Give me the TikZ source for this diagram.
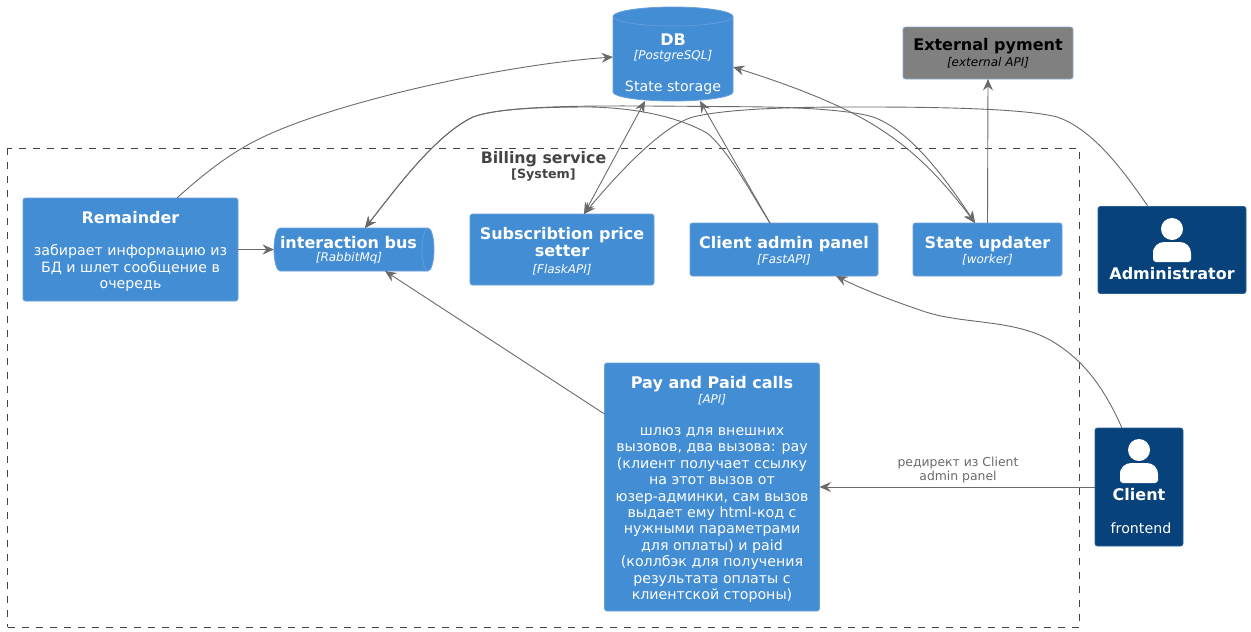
\documentclass[tikz,border=0pt]{standalone}
\usepackage{fontspec}
\setmainfont{DejaVu Sans}
\usetikzlibrary{arrows.meta,calc}
\definecolor{cont}{HTML}{438DD5}
\definecolor{contb}{HTML}{6A9FDC}
\definecolor{pers}{HTML}{08427B}
\definecolor{persb}{HTML}{2A5F96}
\definecolor{extb}{HTML}{8AA8C8}
\definecolor{edgec}{HTML}{6A6A6A}
\definecolor{sysc}{HTML}{444444}
\newcommand\ttl[1]{{\fontsize{16}{18}\selectfont\bfseries #1}}
\newcommand\tch[1]{{\fontsize{12}{14}\selectfont\itshape #1}}
\tikzset{
  base/.style={inner sep=0pt,outer sep=0pt,align=center,text=white,font=\fontsize{14.2}{16.4}\selectfont},
  box/.style={base,draw=contb,fill=cont,line width=0.8pt,rounded corners=2.5pt},
  extbox/.style={box,draw=extb,fill=gray!100!white,text=black},
  persbox/.style={box,draw=persb,fill=pers},
  plain/.style={base},
  edge/.style={draw=edgec,line width=0.9pt,-{Stealth[length=11.5pt,width=10pt,inset=4pt]}},
  bothedge/.style={draw=edgec,line width=0.9pt,{Stealth[length=11.5pt,width=10pt,inset=4pt]}-{Stealth[length=11.5pt,width=10pt,inset=4pt]}},
  sysline/.style={draw=sysc,line width=0.9pt,dash pattern=on 7pt off 7pt},
}
\begin{document}
\begin{tikzpicture}[x=1pt,y=-1pt]
\useasboundingbox (0,0) rectangle (1251,632);
% system boundary
\node[minimum width=1072pt,minimum height=479pt,inner sep=0pt,outer sep=0pt] (sys) at (543.5,387.5) {};
\draw[sysline,dash phase=2.5pt] (sys.north west) -- (sys.north east) -- (sys.south east) -- (sys.south west);
\draw[sysline] (sys.north west) -- (sys.south west);
\node[plain,text=sysc] (systitle) at (543.5,159.5) {\fontsize{15.8}{18}\selectfont\bfseries Billing service};
\node[plain,text=sysc] (systag) at (543.5,175) {\fontsize{12.7}{14}\selectfont\bfseries [System]};

% DB
\path[fill=cont,draw=contb,line width=0.8pt] (613,16.5) -- (613,92) arc[x radius=60,y radius=9,start angle=180,end angle=0] -- (733,16.5) arc[x radius=60,y radius=9.5,start angle=0,end angle=-180] -- cycle;
\path[draw=contb,line width=0.6pt] (613,16.5) arc[x radius=60,y radius=9.5,start angle=180,end angle=0];
\node[minimum width=120pt,minimum height=94pt,inner sep=0pt,outer sep=0pt] (db) at (673,54) {};
\node[plain] (dbt) at (673,40) {\ttl{DB}};
\node[plain] (dbk) at (673,56) {\tch{[PostgreSQL]}};
\node[plain] (dbd) at (673,87.5) {State storage};

% queue
\path[fill=cont,draw=contb,line width=0.8pt] (280,228) -- (428,228) arc[x radius=6,y radius=21.5,start angle=-90,end angle=90] -- (280,271) arc[x radius=6,y radius=21.5,start angle=90,end angle=270] -- cycle;
\path[draw=contb,line width=0.6pt] (428,228) arc[x radius=6,y radius=21.5,start angle=270,end angle=90];
\node[minimum width=160pt,minimum height=43pt,inner sep=0pt,outer sep=0pt] (bus) at (354,249.5) {};
\node[plain] (bust) at (348.5,243) {\ttl{interaction bus}};
\node[plain] (busk) at (349,258.5) {\tch{[RabbitMq]}};

% containers
\node[box,minimum width=215pt,minimum height=103pt] (rem) at (130.5,249.5) {};
\node[plain] (remt) at ([yshift=-2pt]rem.center) {\ttl{Remainder}\\[16pt]забирает информацию из\\БД и шлет сообщение в\\очередь};
\node[box,minimum width=184pt,minimum height=71pt] (sub) at (562,249.5) {};
\node[plain] (subt) at ([yshift=-1.5pt]sub.center) {\ttl{Subscribtion price}\\[1pt]\ttl{setter}\\\tch{[FlaskAPI]}};
\node[box,minimum width=188pt,minimum height=53pt] (adm) at (784,249.5) {};
\node[plain] (admt) at ([yshift=-1.5pt]adm.center) {\ttl{Client admin panel}\\[-1pt]\tch{[FastAPI]}};
\node[box,minimum width=149pt,minimum height=53pt] (upd) at (987.5,249.5) {};
\node[plain] (updt) at ([yshift=-1.5pt]upd.center) {\ttl{State updater}\\[-1pt]\tch{[worker]}};
\node[extbox,minimum width=170pt,minimum height=52pt] (ext) at (988,53) {};
\node[plain,text=black] (extt) at ([yshift=-0.5pt]ext.center) {\ttl{External pyment}\\\tch{[external API]}};
\node[box,minimum width=215pt,minimum height=248pt] (pay) at (712,487) {};
\node[plain] (payt) at ([yshift=-2.5pt]pay.center) {\ttl{Pay and Paid calls}\\[-2pt]\tch{[API]}\\[16pt]шлюз для внешних\\вызовов, два вызова: pay\\(клиент получает ссылку\\на этот вызов от\\юзер-админки, сам вызов\\выдает ему html-код с\\нужными параметрами\\для оплаты) и paid\\(коллбэк для получения\\результата оплаты с\\клиентской стороны)};

% persons
\node[persbox,minimum width=148pt,minimum height=87pt] (admin) at (1172,250) {};
\path[fill=white] (1172,229) circle[radius=11];
\path[fill=white] (1153,262) [rounded corners=3pt] -- (1153,252) [rounded corners=11pt] -- (1153,242) -- (1191,242) [rounded corners=3pt] -- (1191,262) -- cycle;
\node[plain] (admint) at (1172,274) {\ttl{Administrator}};

\node[persbox,minimum width=88pt,minimum height=118pt] (cli) at (1139,487) {};
\path[fill=white] (1139,450) circle[radius=11];
\path[fill=white] (1120,483) [rounded corners=3pt] -- (1120,473) [rounded corners=11pt] -- (1120,463) -- (1158,463) [rounded corners=3pt] -- (1158,483) -- cycle;
\node[plain] (clit) at (1139,495) {\ttl{Client}};
\node[plain] (clid) at (1141,528.5) {frontend};

% connectors
\draw[edge] ([xshift=46.5pt]rem.north) .. controls (210,168) and (235,151) .. (257,140) .. controls (330,103) and (500,65) .. ([yshift=-3pt]db.west);
\draw[edge] (rem.east) -- (bus.west);
\draw[edge] ([xshift=-14pt]adm.north) .. controls (752,195) and (730,152) .. (707,133) .. controls (680,118) and (640,108) .. (590,107) .. controls (540,107) and (495,109) .. (473,117) .. controls (435,135) and (395,190) .. ([xshift=11pt]bus.north);
\draw[edge] ([xshift=-14pt]adm.north) -- ([xshift=27pt]db.south);
\draw[bothedge] ([xshift=11pt]bus.north) .. controls (395,190) and (435,135) .. (473,117) .. controls (510,103) and (620,106) .. (740,106.7) .. controls (800,107) and (850,110) .. (873,117) .. controls (910,130) and (945,178) .. ([xshift=-12.5pt]upd.north);
\draw[bothedge] ([xshift=22pt]sub.north) -- ([xshift=-28pt]db.south);
\draw[bothedge] ([yshift=-13pt]db.east) .. controls (780,82) and (810,93) .. (840,107) .. controls (900,135) and (935,170) .. ([xshift=-12.5pt]upd.north);
\draw[edge] (upd.north) -- (ext.south);
\draw[edge] ([xshift=-24pt]admin.north) .. controls (1120,165) and (1090,128) .. (1057,117) .. controls (1020,107) and (900,107) .. (860,107) .. controls (800,107) and (730,108) .. (693,117) .. controls (665,125) and (625,165) .. ([xshift=22pt]sub.north);
\draw[edge] ([xshift=-17pt]cli.north) .. controls (1105,390) and (1085,360) .. (1050,340) .. controls (1010,318) and (960,325) .. (920,310) .. controls (890,300) and (860,288) .. ([xshift=52pt]adm.south);
\draw[edge] (cli.west) -- (pay.east);
\draw[edge] ([yshift=73pt]pay.west) -- ([xshift=31pt]bus.south);
\node[plain,text=edgec,font=\fontsize{12.4}{14}\selectfont] (lbl) at (958,470.5) {редирект из Client\\admin panel};
\end{tikzpicture}
\end{document}
